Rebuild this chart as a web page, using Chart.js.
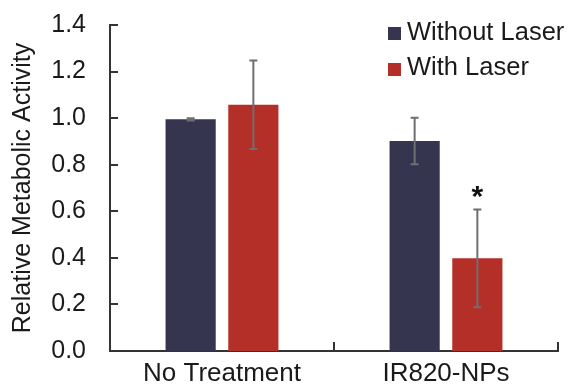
<!DOCTYPE html>
<html>
<head>
<meta charset="utf-8">
<script src="https://cdn.jsdelivr.net/npm/chart.js@4.4.1/dist/chart.umd.min.js"></script>
<style>
  html, body { margin: 0; padding: 0; background: #fff; }
  #chart { display: block; }
</style>
</head>
<body>
<canvas id="chart" width="576" height="391"></canvas>
<script>
var categories = ['No Treatment', 'IR820-NPs'];
var withoutLaser = [0.995, 0.902];
var withLaser = [1.058, 0.398];
var withoutLaserErr = [0.005, 0.10];
var withLaserErr = [0.19, 0.21];
var marks = [['', ''], ['', '*']]; // significance per category, per dataset
var yTicks = [0, 0.2, 0.4, 0.6, 0.8, 1.0, 1.2, 1.4];

var FONT = 'Liberation Sans, Arial, Helvetica, sans-serif';
var errors = [withoutLaserErr, withLaserErr];

var errorBars = {
    id: 'errorBars',
    afterDatasetsDraw: function (chart) {
        var ctx = chart.ctx;
        var y = chart.scales.y;
        ctx.save();
        chart.data.datasets.forEach(function (ds, i) {
            var meta = chart.getDatasetMeta(i);
            meta.data.forEach(function (bar, j) {
                var v = ds.data[j], e = errors[i][j];
                var top = y.getPixelForValue(v + e);
                var bot = y.getPixelForValue(v - e);
                ctx.strokeStyle = '#6f6f6f';
                ctx.lineWidth = 2;
                ctx.beginPath();
                ctx.moveTo(bar.x, top); ctx.lineTo(bar.x, bot);
                ctx.moveTo(bar.x - 4, top); ctx.lineTo(bar.x + 4, top);
                ctx.moveTo(bar.x - 4, bot); ctx.lineTo(bar.x + 4, bot);
                ctx.stroke();
                if (marks[j][i]) {
                    ctx.fillStyle = '#111';
                    ctx.font = 'bold 30px ' + FONT;
                    ctx.textAlign = 'center';
                    ctx.textBaseline = 'alphabetic';
                    ctx.fillText(marks[j][i], bar.x, top - 3);
                }
            });
        });
        ctx.restore();
    }
};

// inward tick marks and legend box at top right
var axisDecor = {
    id: 'axisDecor',
    afterDraw: function (chart) {
        var ctx = chart.ctx;
        var area = chart.chartArea;
        var x = chart.scales.x, y = chart.scales.y;
        ctx.save();
        ctx.strokeStyle = '#333';
        ctx.lineWidth = 2;
        ctx.beginPath();
        yTicks.forEach(function (t) {
            var py = Math.round(y.getPixelForValue(t));
            ctx.moveTo(area.left, py); ctx.lineTo(area.left + 8, py);
        });
        var half = (x.getPixelForValue(1) - x.getPixelForValue(0)) / 2;
        categories.forEach(function (c, i) {
            var px = Math.round(x.getPixelForValue(i) + half);
            ctx.moveTo(px, area.bottom); ctx.lineTo(px, area.bottom - 9);
        });
        ctx.stroke();

        ctx.font = '25.5px ' + FONT;
        ctx.textAlign = 'left';
        ctx.textBaseline = 'middle';
        chart.data.datasets.forEach(function (ds, i) {
            var cy = 33 + i * 36;
            ctx.fillStyle = ds.backgroundColor;
            ctx.fillRect(388, cy - 6, 13, 13);
            ctx.fillStyle = '#1a1a1a';
            ctx.fillText(ds.label, 407, cy - i);
        });
        ctx.restore();
    }
};

new Chart('chart', {
    type: 'bar',
    data: {
        labels: categories,
        datasets: [{
            label: 'Without Laser',
            data: withoutLaser,
            backgroundColor: '#35354f'
        }, {
            label: 'With Laser',
            data: withLaser,
            backgroundColor: '#b52f29'
        }]
    },
    options: {
        responsive: false,
        devicePixelRatio: 1,
        animation: false,
        categoryPercentage: 0.56,
        barPercentage: 0.8,
        layout: { padding: { top: 25, right: 18, left: 0, bottom: 0 } },
        plugins: {
            legend: { display: false },
            tooltip: { enabled: false }
        },
        scales: {
            x: {
                grid: { display: false, drawTicks: false },
                border: { color: '#333', width: 2 },
                ticks: {
                    color: '#1a1a1a',
                    font: { family: FONT, size: 26 },
                    padding: 7,
                    maxRotation: 0
                },
                afterFit: function (s) {
                    s.height = 40;
                    s.paddingLeft = 0; s.paddingRight = 0;
                }
            },
            y: {
                min: 0,
                max: 1.4,
                grid: { display: false, drawTicks: false },
                border: { color: '#333', width: 2 },
                afterBuildTicks: function (s) {
                    s.ticks = yTicks.map(function (v) { return { value: v }; });
                },
                ticks: {
                    color: '#1a1a1a',
                    font: { family: FONT, size: 25 },
                    padding: 24,
                    callback: function (v) { return Number(v).toFixed(1); }
                },
                title: {
                    display: true,
                    text: 'Relative Metabolic Activity',
                    color: '#1a1a1a',
                    font: { family: FONT, size: 25 },
                    padding: { top: 8, bottom: 0 }
                },
                afterFit: function (s) {
                    s.width = 110;
                    s.paddingTop = 0; s.paddingBottom = 0;
                }
            }
        }
    },
    plugins: [errorBars, axisDecor]
});
</script>
</body>
</html>
